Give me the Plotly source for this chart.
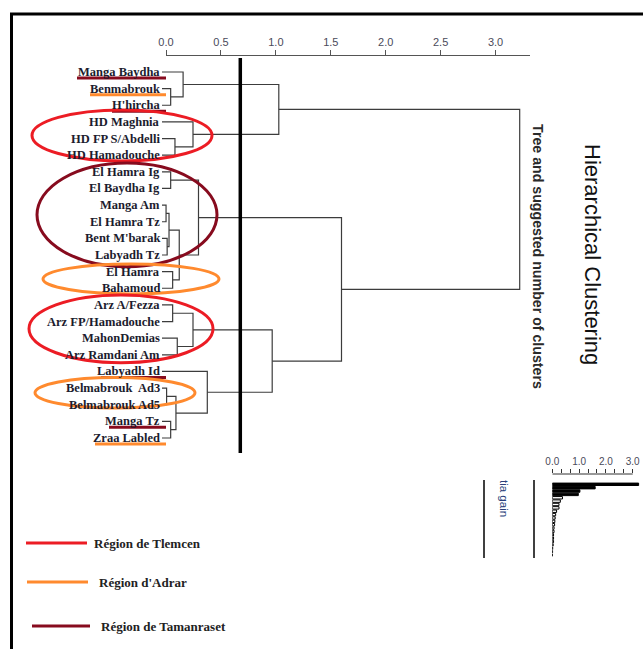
import plotly.graph_objects as go

# ---------------- data ----------------
LEAVES = ["Manga Baydha", "Benmabrouk", "H'hircha", "HD Maghnia", "HD FP S/Abdelli",
          "HD Hamadouche", "El Hamra Ig", "El Baydha Ig", "Manga Am", "El Hamra Tz",
          "Bent M'barak", "Labyadh Tz", "El Hamra", "Bahamoud", "Arz A/Fezza",
          "Arz FP/Hamadouche", "MahonDemias", "Arz Ramdani Am", "Labyadh Id",
          "Belmabrouk\u00a0 Ad3", "Belmabrouk Ad5", "Manga Tz", "Zraa Labled"]

# merges: (member a, member b, height); clusters are referred to as "c<k>"
MERGES = [
    ("Benmabrouk", "H'hircha", 0.047),           # c0
    ("Manga Baydha", "c0", 0.16),                # c1
    ("HD FP S/Abdelli", "HD Hamadouche", 0.086), # c2
    ("HD Maghnia", "c2", 0.25),                  # c3
    ("c1", "c3", 1.03),                          # c4
    ("El Hamra Ig", "El Baydha Ig", 0.047),      # c5
    ("Manga Am", "El Hamra Tz", 0.005),          # c6
    ("Bent M'barak", "Labyadh Tz", 0.015),       # c7
    ("c6", "c7", 0.032),                         # c8
    ("El Hamra", "Bahamoud", 0.065),             # c9
    ("c8", "c9", 0.125),                         # c10
    ("c5", "c10", 0.30),                         # c11
    ("Arz A/Fezza", "Arz FP/Hamadouche", 0.065), # c12
    ("MahonDemias", "Arz Ramdani Am", 0.107),    # c13
    ("c12", "c13", 0.25),                        # c14
    ("Belmabrouk\u00a0 Ad3", "Belmabrouk Ad5", 0.01),  # c15
    ("Manga Tz", "Zraa Labled", 0.047),          # c16
    ("c15", "c16", 0.095),                       # c17
    ("Labyadh Id", "c17", 0.38),                 # c18
    ("c14", "c18", 0.97),                        # c19
    ("c11", "c19", 1.60),                        # c20
    ("c4", "c20", 3.22),                         # c21
]
CUT_HEIGHT = 0.68

AXIS_TICKS = [0.0, 0.5, 1.0, 1.5, 2.0, 2.5, 3.0]
GAIN_TICKS = [0.0, 1.0, 2.0, 3.0]

REGIONS = ["Région de Tlemcen", "Région d'Adrar", "Région de Tamanraset"]
REGION_COLORS = {"Région de Tlemcen": "#ec1c24",
                 "Région d'Adrar": "#ff8a2e",
                 "Région de Tamanraset": "#870b1e"}

UNDERLINED = {"Manga Baydha": "Région de Tamanraset", "Benmabrouk": "Région d'Adrar",
              "H'hircha": "Région de Tamanraset", "Labyadh Id": "Région de Tamanraset",
              "Manga Tz": "Région de Tamanraset", "Zraa Labled": "Région d'Adrar"}
# (region, first leaf, last leaf) of each circled group
CIRCLED = [("Région de Tlemcen", "HD Maghnia", "HD Hamadouche"),
           ("Région de Tamanraset", "El Hamra Ig", "Labyadh Tz"),
           ("Région d'Adrar", "El Hamra", "Bahamoud"),
           ("Région de Tlemcen", "Arz A/Fezza", "Arz Ramdani Am"),
           ("Région d'Adrar", "Belmabrouk\u00a0 Ad3", "Belmabrouk Ad5")]

# ---------------- geometry helpers (layout only) ----------------
W, H = 643, 649
X0PX, XSCALE = 165.5, 110.0
Y0PX, YSTEP = 72.0, (438.0 - 72.0) / 22


def dx(px):
    return (px - X0PX) / XSCALE


def dy(py):
    return (py - Y0PX) / YSTEP


def pxp(px):
    return px / W


def pyp(py):
    return 1 - py / H


# ---------------- dendrogram ----------------
STUB = dx(162)
pos = {name: (0.0, float(i)) for i, name in enumerate(LEAVES)}
lx, ly = [], []
for k, (a, b, h) in enumerate(MERGES):
    ha, ya = pos[a]
    hb, yb = pos[b]
    if a in LEAVES:
        ha = STUB
    if b in LEAVES:
        hb = STUB
    lx += [ha, h, h, hb, None]
    ly += [ya, ya, yb, yb, None]
    pos[f"c{k}"] = (h, (ya + yb) / 2)

fig = go.Figure()
fig.add_trace(go.Scatter(x=lx, y=ly, mode="lines", line=dict(color="#3c3c3c", width=1.2),
                         hoverinfo="skip", showlegend=False))
# carrier for the visible top axis
fig.add_trace(go.Scatter(x=[0], y=[0], xaxis="x3", yaxis="y3", mode="markers",
                         marker=dict(opacity=0), hoverinfo="skip", showlegend=False))

# inertia gain bars
GAINS = sorted([m[2] for m in MERGES], reverse=True)
n_sugg = sum(1 for g in GAINS if g > CUT_HEIGHT)
fig.add_trace(go.Bar(x=GAINS, y=list(range(len(GAINS))), orientation="h",
                     xaxis="x2", yaxis="y2", width=0.72,
                     marker=dict(color=["#000000" if i < n_sugg else "#ffffff" for i in range(len(GAINS))],
                                 line=dict(color="#000000", width=1)),
                     hoverinfo="skip", showlegend=False))

shapes = []
annotations = []

# leaf labels
for i, name in enumerate(LEAVES):
    annotations.append(dict(x=dx(161.5), y=i, xref="x", yref="y", xanchor="right", yanchor="middle",
                            text=f"<b>{name}</b>", showarrow=False,
                            font=dict(family="Liberation Serif", size=12.5, color="#1c1c2e")))

# underlines
UNDER_START = {"Manga Baydha": 77, "Benmabrouk": 90, "H'hircha": 112,
               "Labyadh Id": 101, "Manga Tz": 109, "Zraa Labled": 95}
for name, reg in UNDERLINED.items():
    i = LEAVES.index(name)
    shapes.append(dict(type="line", xref="x", yref="y", x0=dx(UNDER_START[name]), x1=dx(166),
                       y0=i + 0.36, y1=i + 0.36, line=dict(color=REGION_COLORS[reg], width=3)))

# ellipses
ELL_X = [(32, 212), (37, 217), (43, 219), (29, 213), (35, 195)]
ELL_PAD = [(0.72, 0.35), (0.53, 0.7), (0.46, 0.34), (0.6, 0.47), (0.63, 0.2)]
for (reg, first, last), (xa, xb), (pt, pb) in zip(CIRCLED, ELL_X, ELL_PAD):
    i0, i1 = LEAVES.index(first), LEAVES.index(last)
    shapes.append(dict(type="circle", xref="x", yref="y", x0=dx(xa), x1=dx(xb),
                       y0=i0 - pt, y1=i1 + pb, line=dict(color=REGION_COLORS[reg], width=3)))

# cut line
shapes.append(dict(type="line", xref="x", yref="y", x0=CUT_HEIGHT, x1=CUT_HEIGHT,
                   y0=dy(58), y1=dy(453), line=dict(color="#000000", width=3.5)))

# frame
shapes.append(dict(type="line", xref="paper", yref="paper", x0=pxp(11.5), x1=pxp(11.5),
                   y0=pyp(13), y1=0, line=dict(color="#000", width=3)))
shapes.append(dict(type="line", xref="paper", yref="paper", x0=pxp(10), x1=1,
                   y0=pyp(14), y1=pyp(14), line=dict(color="#000", width=3)))

# legend
LEG = [(26, 87, 543, 92), (27, 88, 582, 97), (32, 90, 626, 99)]
for reg, (a, b, yy, tx) in zip(REGIONS, LEG):
    shapes.append(dict(type="line", xref="paper", yref="paper", x0=pxp(a), x1=pxp(b),
                       y0=pyp(yy), y1=pyp(yy), line=dict(color=REGION_COLORS[reg], width=3)))
    annotations.append(dict(x=pxp(tx), y=pyp(yy), xref="paper", yref="paper", xanchor="left",
                            yanchor="middle", text=f"<b>{reg}</b>", showarrow=False,
                            font=dict(family="Liberation Serif", size=13, color="#222222")))

# titles
annotations.append(dict(x=pxp(593), y=pyp(254), xref="paper", yref="paper", text="Hierarchical Clustering",
                        textangle=90, showarrow=False, xanchor="center", yanchor="middle",
                        font=dict(family="Liberation Sans", size=22, color="#111111")))
annotations.append(dict(x=pxp(538), y=pyp(256), xref="paper", yref="paper",
                        text="<b>Tree and suggested number of clusters</b>", textangle=90, showarrow=False,
                        xanchor="center", yanchor="middle",
                        font=dict(family="Liberation Sans", size=14.2, color="#2a2a2a")))

# inertia gain panel
for xx in (484, 534):
    shapes.append(dict(type="line", xref="paper", yref="paper", x0=pxp(xx), x1=pxp(xx),
                       y0=pyp(480), y1=pyp(558), line=dict(color="#000", width=1.5)))
annotations.append(dict(x=pxp(504), y=pyp(498), xref="paper", yref="paper", text="tia gain",
                        textangle=90, showarrow=False, xanchor="center", yanchor="middle",
                        font=dict(family="Liberation Sans", size=11.5, color="#2a3f7a")))
shapes.append(dict(type="line", xref="x2", yref="paper", x0=0, x1=GAIN_TICKS[-1],
                   y0=pyp(474), y1=pyp(474), line=dict(color="#333", width=1)))

gain_minor = [k / 3 for k in range(0, 10)]
gain_text = [f"{v:.1f}" if abs(v - round(v)) < 1e-9 else "" for v in gain_minor]

bar_top, bar_bot = 484.3, 555.0
bstep = (bar_bot - bar_top) / (len(GAINS) - 1)
y2_top = -(bar_top - 474) / bstep
y2_bot = (558 - bar_top) / bstep

fig.update_layout(
    template="none", autosize=False,
    width=W, height=H, margin=dict(l=0, r=0, t=0, b=0, pad=0, autoexpand=False),
    paper_bgcolor="white", plot_bgcolor="rgba(0,0,0,0)", showlegend=False,
    xaxis=dict(domain=[0, 1], range=[dx(0), dx(W)], visible=False, fixedrange=True, automargin=False),
    yaxis=dict(domain=[0, 1], range=[dy(H), dy(0)], visible=False, fixedrange=True, automargin=False),
    xaxis3=dict(domain=[pxp(166), pxp(530)], range=[0, dx(530)], anchor="y3", automargin=False,
                side="top", showline=True, linecolor="#555", linewidth=1,
                ticks="outside", ticklen=5, tickcolor="#555", tickvals=AXIS_TICKS,
                ticktext=[f"{v:.1f}" for v in AXIS_TICKS], showgrid=False, zeroline=False,
                tickfont=dict(family="Liberation Sans", size=11, color="#4a4a5a")),
    yaxis3=dict(domain=[pyp(60), pyp(56)], range=[-1, 1], anchor="x3", visible=False, automargin=False),
    xaxis2=dict(domain=[pxp(552.3), 1], range=[0, (W - 552.3) / 26.8], anchor="y2", side="top",
                automargin=False,
                showline=False, ticks="outside", ticklen=4, tickcolor="#333", tickvals=gain_minor,
                ticktext=gain_text, showgrid=False, zeroline=False,
                tickfont=dict(family="Liberation Sans", size=10, color="#4a4a5a")),
    yaxis2=dict(domain=[pyp(558), pyp(474)], range=[y2_bot, y2_top], anchor="x2",
                visible=False, automargin=False),
    shapes=shapes, annotations=annotations, bargap=0.2,
)

fig.write_html(
    "out.html",
    config={"displayModeBar": False, "staticPlot": True},
    post_script="document.documentElement.style.margin='0px';document.body.style.margin='0px';"
                "document.documentElement.style.overflow='hidden';document.body.style.overflow='hidden';",
)
